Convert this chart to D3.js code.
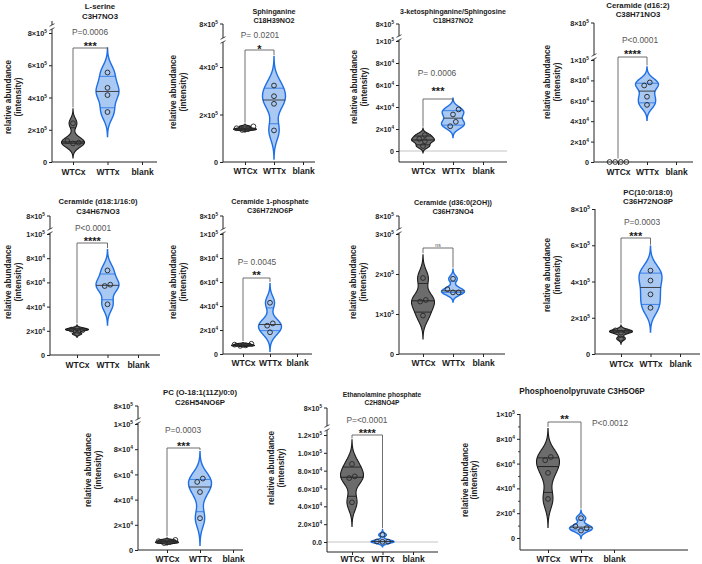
<!DOCTYPE html>
<html><head><meta charset="utf-8">
<script src="https://cdn.jsdelivr.net/npm/d3@7"></script>
<style>
body{margin:0;background:#fff}
text{font-family:"Liberation Sans",Arial,sans-serif}
</style>
</head><body>
<svg id="c" width="702" height="564"></svg>
<script>
// ---------------- DATA ----------------
const titles = ["L-serine","Sphinganine","3-ketosphinganine/Sphingosine","Ceramide (d16:2)",
  "Ceramide (d18:1/16:0)","Ceramide 1-phosphate","Ceramide (d36:0(2OH))","PC(10:0/18:0)",
  "PC (O-18:1(11Z)/0:0)","Ethanolamine phosphate","Phosphoenolpyruvate C3H5O6P"];
const formulas = ["C3H7NO3","C18H39NO2","C18H37NO2","C38H71NO3","C34H67NO3","C36H72NO6P",
  "C36H73NO4","C36H72NO8P","C26H54NO6P","C2H8NO4P",""];
const categories = ["WTCx","WTTx","blank"];
const wtcx = [
  [2.4e5,1.3e5,1.2e5,1.15e5],
  [1.5e5,1.42e5,1.38e5,1.35e5],
  [1.45e4,1.1e4,0.9e4,0.45e4],
  [0,0,0,0],
  [2.2e4,2.1e4,2.05e4,1.75e4],
  [0.85e4,0.78e4,0.72e4,0.68e4],
  [1.9e5,1.35e5,1.31e5,0.96e5],
  [1.3e5,1.25e5,1.18e5,0.85e5],
  [0.8e4,0.7e4,0.62e4,0.55e4],
  [8.75e4,7.36e4,7.17e4,4.45e4],
  [6.53e4,6.27e4,5.25e4,3.15e4]
];
const wttx = [
  [5.55e5,4.6e5,4.15e5,3.1e5],
  [3.22e5,2.77e5,2.45e5,1.33e5],
  [3.78e4,3.32e4,2.65e4,2.25e4],
  [7.8e4,7.5e4,6.4e4,5.6e4],
  [6.99e4,5.81e4,5.7e4,4.19e4],
  [4.27e4,2.55e4,2.36e4,1.81e4],
  [1.88e5,1.62e5,1.54e5,1.54e5],
  [4.6e5,4.05e5,3.29e5,2.55e5],
  [5.67e4,5.4e4,4.6e4,2.52e4],
  [8000,600,400,200],
  [1.6e4,0.95e4,0.8e4,0.6e4]
];
const pLabels = ["P=0.0006","P= 0.0201","P= 0.0006","P<0.0001","P<0.0001","P= 0.0045","",
  "P=0.0003","P=0.0003","P=<0.0001","P<0.0012"];
const stars = ["***","*","***","****","****","**","ns","***","***","****","**"];
const yTicks = [
  [0,2e5,4e5,6e5,8e5],
  [0,2e5,4e5],
  [0,2e4,4e4,6e4,8e4,1e5],
  [0,2e4,4e4,6e4,8e4,1e5],
  [0,2e4,4e4,6e4,8e4,1e5],
  [0,2e4,4e4,6e4,8e4,1e5],
  [0,1e5,2e5,3e5],
  [0,2e5,4e5,6e5,8e5],
  [0,2e4,4e4,6e4,8e4,1e5],
  [0,2e4,4e4,6e4,8e4,1e5,1.2e5],
  [0,2e4,4e4,6e4,8e4,1e5]
];
const L4 = ["0","2×10^4","4×10^4","6×10^4","8×10^4","1×10^5"];
const yTickLabels = [
  ["0","2×10^5","4×10^5","6×10^5","8×10^5"],
  ["0","2×10^5","4×10^5"],
  L4, L4, L4, L4,
  ["0","1×10^5","2×10^5","3×10^5"],
  ["0","2×10^5","4×10^5","6×10^5","8×10^5"],
  L4,
  ["0.0","2.0×10^4","4.0×10^4","6.0×10^4","8.0×10^4","1.0×10^5","1.2×10^5"],
  L4
];
const breakLabels = ["","8×10^5","8×10^5","8×10^5","8×10^5","8×10^5","8×10^5","","8×10^5","8×10^5",""];
const minorTicks11 = [1e4,3e4,5e4,7e4,9e4];
const yLabel = ["relative abundance","(intensity)"];

// ---------------- LAYOUT ----------------
const layouts = [
 {axisX:52, cats:[73,142], xEnd:157, xAxisY:162, yDom:[0,8e5], yRng:[162,33], brk:{top:21,gap:27},
  title:{x:100,y:[9,19],fs:7.8}, ylab:{x:[11,21],cy:97}, catY:175, bracketY:48, starY:43, p:[90,35], tfs:7.4},
 {axisX:223, cats:[245,303], xEnd:315, xAxisY:162, yDom:[0,4e5], yRng:[162,67], brk:{top:24,gap:40},
  title:{x:274,y:[14,23],fs:7.2}, ylab:{x:[176,186],cy:92}, catY:174, bracketY:50, starY:46, p:[260,38], tfs:7.2},
 {axisX:399, cats:[423,483], xEnd:507, xAxisY:162, yDom:[0,1e5], yRng:[151,41], brk:{top:24,gap:38}, zero:true,
  title:{x:453,y:[14,23],fs:7}, ylab:{x:[357,367],cy:87}, catY:174, bracketY:99, starY:88, p:[437,76], tfs:7},
 {axisX:594, cats:[618,676], xEnd:693, xAxisY:162, yDom:[0,1e5], yRng:[162,60], brk:{top:23,gap:57},
  title:{x:638,y:[8,17],fs:7.8}, ylab:{x:[550,560],cy:82}, catY:175, bracketY:57, starY:51, p:[640,43], tfs:7.2},
 {axisX:50, cats:[77,138], xEnd:160, xAxisY:355, yDom:[0,1e5], yRng:[355,234], brk:{top:216,gap:231},
  title:{x:98,y:[204,214],fs:7.6}, ylab:{x:[11,21],cy:282}, catY:368, bracketY:243, starY:238, p:[93,231], tfs:7.2},
 {axisX:223, cats:[243,297], xEnd:312, xAxisY:354, yDom:[0,1e5], yRng:[354,234], brk:{top:216,gap:231},
  title:{x:270,y:[204,213],fs:7.2}, ylab:{x:[176,186],cy:282}, catY:366, bracketY:278, starY:272, p:[257,265], tfs:7},
 {axisX:399, cats:[423,483], xEnd:505, xAxisY:354, yDom:[0,3e5], yRng:[354,234], brk:{top:216,gap:231},
  title:{x:453,y:[205,214],fs:7.2}, ylab:{x:[356,366],cy:282}, catY:366, bracketY:248, starY:245, p:[0,0], tfs:7.2},
 {axisX:595, cats:[621,680], xEnd:700, xAxisY:354, yDom:[0,8e5], yRng:[354,209], brk:null,
  title:{x:648,y:[195,204],fs:7.8}, ylab:{x:[550,560],cy:275}, catY:367, bracketY:238, starY:233, p:[642,225], tfs:7.4},
 {axisX:138, cats:[167,233], xEnd:243, xAxisY:550, yDom:[0,1e5], yRng:[550,424], brk:{top:406,gap:421},
  title:{x:200,y:[395,405],fs:7.8}, ylab:{x:[91,101],cy:470}, catY:562, bracketY:448, starY:443, p:[183,433], tfs:7.4},
 {axisX:327, cats:[352,413], xEnd:438, xAxisY:552, yDom:[0,1.2e5], yRng:[542,435], brk:{top:408,gap:428}, zero:true,
  title:{x:382,y:[397,405],fs:6.6}, ylab:{x:[274,284],cy:468}, catY:562, bracketY:435, starY:430, p:[367,423], tfs:7},
 {axisX:520, cats:[548,614], xEnd:688, xAxisY:550, yDom:[0,1e5], yRng:[538,414], brk:null, minor:true,
  title:{x:582,y:[394],fs:8.2}, ylab:{x:[468,477],cy:480}, catY:562, bracketY:422, starY:416, p:[592,426], pAnchor:"start", tfs:7.2}
];

// ---------------- DRAW ----------------
const svg = d3.select("#c");
const AX = "#222", GRAYFILL = "#6c6c6c", BLUEFILL = "#a9c9f3", BLUE = "#1e6fe6";

function expText(sel, label, fs) {
  const parts = label.split("^");
  sel.text(null);
  sel.append("tspan").text(parts[0]);
  if (parts[1]) sel.append("tspan").attr("dy", -fs*0.42).attr("font-size", fs*0.66).text(parts[1]);
}
function quant(s, p) {
  const n = s.length, r = p*(n+1), i = Math.floor(r), f = r - i;
  if (i < 1) return s[0];
  if (i >= n) return s[n-1];
  return s[i-1] + f*(s[i]-s[i-1]);
}
function violin(g, vals, cx, y, hw, fill, stroke, sw, qCol, mCol) {
  const sd = d3.deviation(vals);
  if (!sd) return y(d3.max(vals)) - 3.5;
  const h = 0.5*sd;
  const lo = d3.min(vals) - 3*h, hi = d3.max(vals) + 3*h;
  const dens = v => d3.sum(vals, xi => Math.exp(-0.5*((v-xi)/h)**2));
  const pts = d3.range(0,121).map(k => { const v = lo + (hi-lo)*k/120; return {v, d: dens(v)}; });
  const maxD = d3.max(pts, p => p.d);
  const area = d3.area().y(p => y(p.v)).x0(p => cx - hw*p.d/maxD).x1(p => cx + hw*p.d/maxD).curve(d3.curveBasis);
  g.append("path").attr("d", area(pts)).attr("fill", fill).attr("stroke", stroke).attr("stroke-width", sw);
  const s = vals.slice().sort(d3.ascending);
  [[0.25,qCol,0.8],[0.5,mCol,0.9],[0.75,qCol,0.8]].forEach(([p,c,w]) => {
    const q = quant(s,p), ww = hw*dens(q)/maxD;
    g.append("line").attr("x1", cx-ww).attr("x2", cx+ww).attr("y1", y(q)).attr("y2", y(q))
      .attr("stroke", c).attr("stroke-width", w);
  });
  return y(hi) - 1.5;
}
function swarm(g, vals, cx, y, r) {
  const placed = [];
  const step = 2*r + 0.8;
  vals.slice().sort(d3.ascending).forEach(v => {
    const py = y(v);
    let off = 0;
    for (let k = 0; k < 30; k++) {
      const cand = k === 0 ? 0 : (k % 2 ? 1 : -1)*Math.ceil(k/2)*step;
      if (placed.every(p => Math.hypot(p.x - cand, p.y - py) >= 2*r + 0.6)) { off = cand; break; }
    }
    placed.push({x: off, y: py});
  });
  const sorted = placed.slice().sort((a,b) => a.y - b.y);
  let cl = [];
  const flush = () => { if (cl.length > 1) { const m = d3.mean(cl, p => p.x); cl.forEach(p => p.x -= m); } cl = []; };
  sorted.forEach(p => { if (cl.length && p.y - cl[cl.length-1].y > 2*r) flush(); cl.push(p); });
  flush();
  placed.forEach(p => g.append("circle").attr("cx", cx + p.x).attr("cy", p.y).attr("r", r)
    .attr("fill", "none").attr("stroke", "#2a2a2a").attr("stroke-width", 0.95));
}

layouts.forEach((L, i) => {
  const g = svg.append("g");
  const y = d3.scaleLinear().domain(L.yDom).range(L.yRng);
  const x = d3.scalePoint().domain(categories).range(L.cats);
  const fs = L.tfs;

  const tl = [titles[i], formulas[i]].filter(t => t);
  tl.forEach((t, k) => g.append("text").attr("x", L.title.x).attr("y", L.title.y[k])
    .attr("text-anchor","middle").attr("font-size", L.title.fs).attr("font-weight","bold").attr("fill","#1a1a1a").text(t));

  yLabel.forEach((t, k) => g.append("text")
    .attr("transform", `translate(${L.ylab.x[k]},${L.ylab.cy}) rotate(-90)`)
    .attr("text-anchor","middle").attr("font-size", 8.2).attr("font-weight","bold").attr("fill","#222").text(t));

  if (L.zero) g.append("line").attr("x1", L.axisX).attr("x2", L.xEnd).attr("y1", y(0)).attr("y2", y(0))
    .attr("stroke", "#bdbdbd").attr("stroke-width", 0.9);

  const axTop = L.brk ? L.brk.gap + 2 : L.yRng[1];
  g.append("line").attr("x1", L.axisX).attr("x2", L.axisX).attr("y1", L.xAxisY).attr("y2", axTop)
    .attr("stroke", AX).attr("stroke-width", 1);
  if (L.brk) {
    g.append("line").attr("x1", L.axisX).attr("x2", L.axisX).attr("y1", L.brk.top).attr("y2", L.brk.gap - 2)
      .attr("stroke", AX).attr("stroke-width", 1);
    [-2, 2].forEach(d => g.append("line")
      .attr("x1", L.axisX - 2.5).attr("y1", L.brk.gap + d + 1.3).attr("x2", L.axisX + 2.5).attr("y2", L.brk.gap + d - 1.3)
      .attr("stroke", AX).attr("stroke-width", 0.8));
    if (breakLabels[i]) {
      g.append("line").attr("x1", L.axisX - 3).attr("x2", L.axisX).attr("y1", L.brk.top).attr("y2", L.brk.top)
        .attr("stroke", AX).attr("stroke-width", 1);
      const t = g.append("text").attr("x", L.axisX - 5).attr("y", L.brk.top + fs*0.36)
        .attr("text-anchor","end").attr("font-size", fs).attr("font-weight","bold").attr("fill","#222");
      expText(t, breakLabels[i], fs);
    }
  }
  const ya = g.append("g").attr("transform", `translate(${L.axisX},0)`)
    .call(d3.axisLeft(y).tickValues(yTicks[i]).tickSize(3).tickPadding(2));
  ya.select(".domain").remove();
  ya.selectAll("line").attr("stroke", AX).attr("stroke-width", 1);
  ya.selectAll("text").attr("font-size", fs).attr("font-weight","bold").attr("fill","#222")
    .attr("font-family", '"Liberation Sans",Arial,sans-serif').attr("dy", null).attr("y", fs*0.36)
    .each(function(d, j){ expText(d3.select(this), yTickLabels[i][j], fs); });
  if (L.minor) {
    const ma = g.append("g").attr("transform", `translate(${L.axisX},0)`)
      .call(d3.axisLeft(y).tickValues(minorTicks11).tickSize(2).tickFormat(""));
    ma.select(".domain").remove();
    ma.selectAll("line").attr("stroke", AX).attr("stroke-width", 0.8);
  }

  g.append("line").attr("x1", L.axisX).attr("x2", L.xEnd).attr("y1", L.xAxisY).attr("y2", L.xAxisY)
    .attr("stroke", AX).attr("stroke-width", 1);
  const xa = g.append("g").attr("transform", `translate(0,${L.xAxisY})`)
    .call(d3.axisBottom(x).tickSize(3));
  xa.select(".domain").remove();
  xa.selectAll("line").attr("stroke", AX).attr("stroke-width", 1);
  xa.selectAll("text").attr("font-size", 8.5).attr("font-weight","bold").attr("fill","#1a1a1a")
    .attr("font-family", '"Liberation Sans",Arial,sans-serif').attr("dy", null).attr("y", L.catY - L.xAxisY);

  const hw = 11.5;
  const top1 = violin(g, wtcx[i], x("WTCx"), y, hw, GRAYFILL, "#1a1a1a", 1.1, "#1a1a1a", "#1a1a1a");
  const top2 = violin(g, wttx[i], x("WTTx"), y, hw, BLUEFILL, BLUE, 1.4, BLUE, "#333");
  swarm(g, wtcx[i], x("WTCx"), y, 2.4);
  swarm(g, wttx[i], x("WTTx"), y, 2.4);

  const bx1 = x("WTCx"), bx2 = x("WTTx"), by = L.bracketY;
  g.append("path").attr("d", `M${bx1},${Math.max(top1, by+2)}V${by}H${bx2}V${Math.max(top2, by+2)}`)
    .attr("fill","none").attr("stroke","#555").attr("stroke-width", 0.85);
  if (stars[i] === "ns") {
    g.append("text").attr("x", (bx1+bx2)/2).attr("y", by - 1.2).attr("text-anchor","middle")
      .attr("font-size", 5).attr("fill","#444").text("ns");
  } else {
    g.append("text").attr("x", (bx1+bx2)/2).attr("y", L.starY + 6.6).attr("text-anchor","middle")
      .attr("font-size", 11).attr("font-weight","bold").attr("fill","#1a1a1a").text(stars[i]);
  }
  if (pLabels[i]) g.append("text").attr("x", L.p[0]).attr("y", L.p[1]).attr("text-anchor", L.pAnchor || "middle")
    .attr("font-size", 8.4).attr("fill","#555").text(pLabels[i]);
});
</script>
</body></html>
